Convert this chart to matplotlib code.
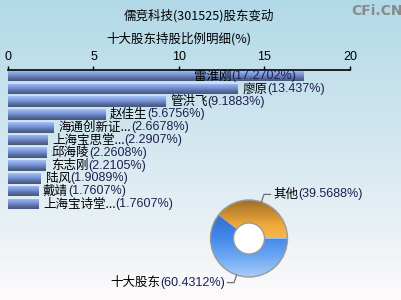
import numpy as np
import matplotlib
matplotlib.use("Agg")
import matplotlib.pyplot as plt
from matplotlib.colors import LinearSegmentedColormap
from matplotlib.patches import Wedge, Circle

plt.rcParams['font.family'] = ['Noto Sans CJK SC', 'DejaVu Sans']

# ---------------- data ----------------
title = '儒竞科技(301525)股东变动'
subtitle = '十大股东持股比例明细(%)'
holders = ['雷淮刚', '廖原', '管洪飞', '赵佳生', '海通创新证...', '上海宝思堂...',
           '邱海陵', '东志刚', '陆风', '戴靖', '上海宝诗堂...']
shares = [17.2702, 13.437, 9.1883, 5.6756, 2.6678, 2.2907, 2.2608, 2.2105,
          1.9089, 1.7607, 1.7607]
x_ticks = [0, 5, 10, 15, 20]
pie_names = ['其他', '十大股东']
pie_values = [39.5688, 60.4312]

W, H = 402, 300
fig = plt.figure(figsize=(W / 100, H / 100), dpi=100)

def fx(px):
    return px / W

def fy(py):
    return 1 - py / H

# background gradient
bg = fig.add_axes([0, 0, 1, 1], zorder=-10)
bg_cmap = LinearSegmentedColormap.from_list('bg', ['#b2d9e8', '#d5e8f0', '#fdfafb'])
bg.imshow(np.linspace(0, 1, 256).reshape(-1, 1), aspect='auto', cmap=bg_cmap,
          extent=(0, 1, 0, 1), origin='upper')
bg.set_axis_off()

NUM_COLOR = '#1e2050'
NUM_FONT = ['Liberation Sans', 'DejaVu Sans']
FS = 9

# titles
fig.text(fx(199), fy(16), title, ha='center', va='center', fontsize=FS, color='black')
fig.text(fx(179), fy(39), subtitle, ha='center', va='center', fontsize=FS, color='black')
fig.text(fx(377), fy(11), 'CFi.CN', ha='center', va='center', fontsize=10,
         color='#8a8a8a', fontweight='bold', family='DejaVu Sans')

# ---------------- bar chart ----------------
ax = fig.add_axes([fx(8), fy(210), fx(350) - fx(8), fy(70) - fy(210)])
ax.set_facecolor('none')
n = len(holders)
ypos = np.arange(n)
bh = 0.83
bars = ax.barh(ypos, shares, height=bh, color='none', edgecolor='none')
bar_cmap = LinearSegmentedColormap.from_list('bar', ['#a9c3f5', '#8aa6e6', '#6f8bcc', '#56699a', '#46587e'])
grad = np.linspace(0, 1, 64).reshape(-1, 1)
for rect, y, v in zip(bars, ypos, shares):
    im = ax.imshow(grad, aspect='auto', cmap=bar_cmap, origin='upper',
                   extent=(0, v, y + bh / 2, y - bh / 2), zorder=2)
    im.set_clip_path(rect)

ax.set_xlim(0, 20)
ax.set_ylim(n - 1 + 0.47, -0.47)
ax.xaxis.tick_top()
ax.set_xticks(x_ticks)
ax.set_xticklabels([str(t) for t in x_ticks], fontsize=FS, family=NUM_FONT)
ax.tick_params(axis='x', direction='out', length=3, width=1, pad=2, color='black')
ax.set_yticks([])
for s in ['left', 'right', 'bottom']:
    ax.spines[s].set_visible(False)
ax.spines['top'].set_linewidth(1.2)

for y, name, v in zip(ypos, holders, shares):
    pct = f'({v:g}%)'
    if v > 15:
        t2 = ax.annotate(pct, xy=(v, y), xytext=(-5, 0), textcoords='offset points',
                         ha='right', va='center', fontsize=FS, color=NUM_COLOR, zorder=5,
                         family=NUM_FONT, annotation_clip=False)
        ax.annotate(name, xy=(0, 0.5), xycoords=t2, ha='right', va='center',
                    fontsize=FS, color='black', zorder=5)
    else:
        t1 = ax.annotate(name, xy=(v, y), xytext=(3.5, 0), textcoords='offset points',
                         ha='left', va='center', fontsize=FS, color='black', zorder=5,
                         annotation_clip=False)
        ax.annotate(pct, xy=(1, 0.5), xycoords=t1, ha='left', va='center',
                    fontsize=FS, color=NUM_COLOR, zorder=5, family=NUM_FONT)

# ---------------- donut ----------------
cx, cy, R = 249, 238.5, 38.5
half = 50
pax = fig.add_axes([fx(cx - half), fy(cy + half), fx(2 * half), 2 * half / H])
lim = half / R
pax.set_xlim(-lim, lim)
pax.set_ylim(-lim, lim)
pax.set_axis_off()

rin = 15.5 / R
wedge_cmaps = [
    LinearSegmentedColormap.from_list('o', ['#9c6e2a', '#c58a2f', '#f0aa3c', '#f7b84a']),
    LinearSegmentedColormap.from_list('b', ['#3470d0', '#3f86ea', '#6aa6f2', '#a9cdf8']),
]
wedge_ext = [(-1, 1, 0, 1), (-1, 1, -1, 0.6)]
start = 0.0
total = sum(pie_values)
mids = []
for val, cm, ext in zip(pie_values, wedge_cmaps, wedge_ext):
    ang = val / total * 360
    w = Wedge((0, 0), 1, start, start + ang, width=1 - rin, facecolor='none',
              edgecolor='none')
    pax.add_patch(w)
    im = pax.imshow(np.linspace(0, 1, 128).reshape(-1, 1), cmap=cm, aspect='auto',
                    origin='upper', extent=ext, zorder=1)
    im.set_clip_path(w)
    mids.append(np.deg2rad(start + ang / 2))
    start += ang
pax.add_patch(Circle((0, 0), 1, facecolor='none', edgecolor='#9a9a9a', lw=1.0, zorder=3))
pax.add_patch(Circle((0, 0), rin, facecolor='white', edgecolor='#9a9a9a', lw=1.0, zorder=3))

for name, val, m in zip(pie_names, pie_values, mids):
    x0, y0 = np.cos(m), np.sin(m)
    x1, y1 = 1.21 * x0, 1.21 * y0
    sgn = 1 if x0 > 0 else -1
    x2 = x1 + sgn * 0.17
    pax.plot([x0, x1, x2], [y0, y1, y1], color='#707070', lw=0.9, clip_on=False, zorder=4)
    pct = f'({val:g}%)'
    if sgn > 0:
        t = pax.text(x2 + 0.07, y1, name, ha='left', va='center', fontsize=FS,
                     color='black', clip_on=False)
        pax.annotate(pct, xy=(1, 0.5), xycoords=t, ha='left', va='center',
                     fontsize=FS, color=NUM_COLOR, family=NUM_FONT)
    else:
        t = pax.text(x2 - 0.07, y1, pct, ha='right', va='center', fontsize=FS,
                     color=NUM_COLOR, clip_on=False, family=NUM_FONT)
        pax.annotate(name, xy=(0, 0.5), xycoords=t, ha='right', va='center',
                     fontsize=FS, color='black')

fig.savefig('out.png', dpi=100)
